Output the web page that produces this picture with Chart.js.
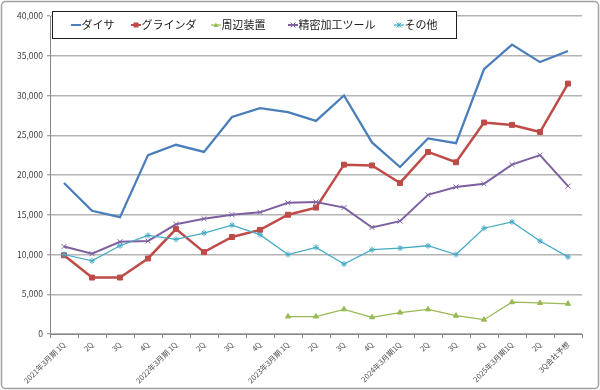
<!DOCTYPE html>
<html>
<head>
<meta charset="utf-8">
<script src="https://cdn.jsdelivr.net/npm/chart.js@4.4.0/dist/chart.umd.min.js"></script>
<style>
  html, body { margin: 0; padding: 0; background: #fff; }
</style>
</head>
<body>
<canvas id="chart" width="600" height="390"></canvas>
<script>
// 四半期ラベル
const quarters = [
  '2021年3月期 1Q', '2Q', '3Q', '4Q',
  '2022年3月期 1Q', '2Q', '3Q', '4Q',
  '2023年3月期 1Q', '2Q', '3Q', '4Q',
  '2024年3月期1Q', '2Q', '3Q', '4Q',
  '2025年3月期1Q', '2Q', '3Q会社予想'
];

// 系列データ
const dicer     = [19000, 15500, 14700, 22500, 23800, 22900, 27300, 28400, 27900, 26800, 30000, 24100, 21000, 24600, 24000, 33300, 36400, 34200, 35600];
const grinder   = [9900, 7100, 7100, 9500, 13200, 10300, 12200, 13100, 15000, 15900, 21300, 21200, 19000, 22900, 21600, 26600, 26300, 25400, 31500];
const periphery = [null, null, null, null, null, null, null, null, 2200, 2200, 3100, 2100, 2700, 3100, 2300, 1800, 4000, 3900, 3800];
const precision = [11000, 10100, 11600, 11700, 13800, 14500, 15000, 15300, 16500, 16600, 15900, 13400, 14200, 17500, 18500, 18900, 21300, 22500, 18600];
const others    = [10000, 9200, 11100, 12400, 11900, 12700, 13700, 12500, 10000, 10900, 8800, 10600, 10800, 11100, 10000, 13300, 14100, 11700, 9700];

const seriesNames = ['ダイサ', 'グラインダ', '周辺装置', '精密加工ツール', 'その他'];

const FONT = "'Noto Sans CJK JP', 'Noto Sans', sans-serif";

// 枠線と凡例（プロット内に重ねて描く）
const framePlugin = {
    id: 'frame',
    beforeDraw(chart) {
        const ctx = chart.ctx;
        ctx.save();
        ctx.fillStyle = '#fff';
        ctx.fillRect(0, 0, chart.width, chart.height);
        ctx.strokeStyle = '#a0a0a0';
        ctx.lineWidth = 1.5;
        ctx.beginPath();
        ctx.roundRect(1.5, 1.5, chart.width - 3, chart.height - 3, 4);
        ctx.stroke();
        ctx.restore();
    },
    afterDraw(chart) {
        const ctx = chart.ctx;
        ctx.save();
        ctx.fillStyle = '#fff';
        ctx.fillRect(52.5, 11.5, 404, 27);
        ctx.strokeStyle = '#202020';
        ctx.lineWidth = 1;
        ctx.strokeRect(52.5, 11.5, 404, 27);

        const starts = [71, 131, 211, 288, 394];
        const cy = 25;
        ctx.font = '11px ' + FONT;
        ctx.textBaseline = 'middle';
        chart.data.datasets.forEach((ds, i) => {
            const x = starts[i];
            ctx.strokeStyle = ds.borderColor;
            ctx.lineWidth = Math.min(ds.borderWidth, 2);
            ctx.beginPath();
            ctx.moveTo(x, cy);
            ctx.lineTo(x + 10, cy);
            ctx.stroke();
            drawMarker(ctx, ds.pointStyle, x + 5, cy, 2.5, ds.borderColor);
            ctx.fillStyle = '#202020';
            ctx.fillText(ds.label, x + 10.5, cy);
        });
        ctx.restore();
    }
};

function drawMarker(ctx, style, x, y, r, color) {
    ctx.fillStyle = color;
    ctx.strokeStyle = color;
    ctx.lineWidth = 1;
    if (style === 'rect') {
        ctx.fillRect(x - r, y - r, r * 2, r * 2);
    } else if (style === 'triangle') {
        ctx.beginPath();
        ctx.moveTo(x, y - r);
        ctx.lineTo(x + r, y + r * 0.8);
        ctx.lineTo(x - r, y + r * 0.8);
        ctx.closePath();
        ctx.fill();
    } else if (style === 'crossRot' || style === 'star') {
        ctx.beginPath();
        ctx.moveTo(x - r, y - r); ctx.lineTo(x + r, y + r);
        ctx.moveTo(x - r, y + r); ctx.lineTo(x + r, y - r);
        if (style === 'star') { ctx.moveTo(x, y - r); ctx.lineTo(x, y + r); }
        ctx.stroke();
    }
}

const ctx = document.getElementById('chart').getContext('2d');
new Chart(ctx, {
    type: 'line',
    data: {
        labels: quarters,
        datasets: [
            {
                label: seriesNames[0],
                data: dicer,
                borderColor: '#4A7EBB',
                backgroundColor: '#4A7EBB',
                borderWidth: 2.25,
                pointRadius: 0,
                pointStyle: false,
                order: 5
            },
            {
                label: seriesNames[1],
                data: grinder,
                borderColor: '#BE4B48',
                backgroundColor: '#BE4B48',
                borderWidth: 2.5,
                pointStyle: 'rect',
                pointRadius: 3.5,
                pointBorderWidth: 1,
                order: 4
            },
            {
                label: seriesNames[2],
                data: periphery,
                borderColor: '#98B954',
                backgroundColor: '#98B954',
                borderWidth: 1.25,
                pointStyle: 'triangle',
                pointRadius: 3,
                pointBorderWidth: 1,
                order: 3
            },
            {
                label: seriesNames[3],
                data: precision,
                borderColor: '#7D60A0',
                backgroundColor: '#7D60A0',
                borderWidth: 2,
                pointStyle: 'crossRot',
                pointRadius: 3.5,
                pointBorderWidth: 1,
                order: 2
            },
            {
                label: seriesNames[4],
                data: others,
                borderColor: '#46AAC5',
                backgroundColor: '#46AAC5',
                borderWidth: 1.25,
                pointStyle: 'star',
                pointRadius: 3,
                pointBorderWidth: 1,
                order: 1
            }
        ]
    },
    options: {
        responsive: false,
        animation: false,
        layout: {
            padding: { left: 2, right: 18, top: 16, bottom: 0 }
        },
        elements: {
            line: { tension: 0 }
        },
        plugins: {
            legend: { display: false },
            tooltip: { enabled: false }
        },
        scales: {
            x: {
                offset: true,
                grid: {
                    display: true,
                    drawOnChartArea: false,
                    offset: true,
                    tickLength: 4,
                    color: '#868686'
                },
                border: { color: '#868686', width: 1 },
                ticks: {
                    autoSkip: false,
                    maxRotation: 45,
                    minRotation: 45,
                    padding: 2,
                    color: '#505050',
                    font: { size: 7.5, family: FONT }
                },
                afterFit(scale) { scale.height = 56; }
            },
            y: {
                min: 0,
                max: 40000,
                grid: {
                    color: '#b4b4b4',
                    lineWidth: 1.5,
                    tickLength: 3,
                    tickColor: '#868686',
                    tickWidth: 1
                },
                border: { color: '#868686', width: 1 },
                ticks: {
                    stepSize: 5000,
                    padding: 4,
                    color: '#404040',
                    font: { size: 8.5, family: FONT },
                    callback: value => value.toLocaleString('en-US')
                },
                afterFit(scale) { scale.width = 48; }
            }
        }
    },
    plugins: [framePlugin]
});
</script>
</body>
</html>
